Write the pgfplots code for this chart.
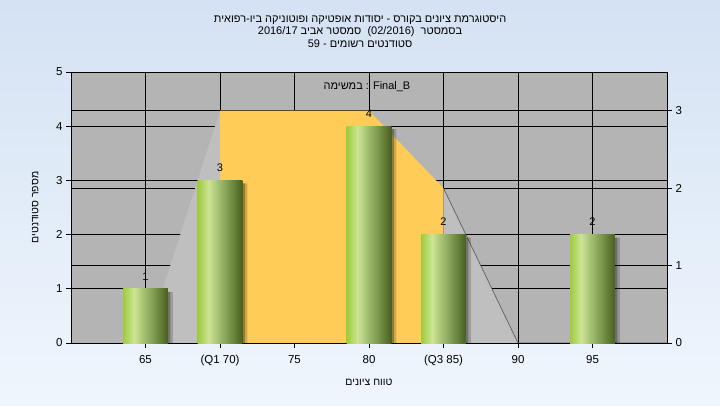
\documentclass[border=0pt]{standalone}
\usepackage{fontspec}
\setmainfont{Liberation Sans}
\newfontfamily\hebfont[Script=Hebrew]{Liberation Sans}
\usepackage{pgfplots}
\pgfplotsset{compat=1.18}
\TeXXeTstate=1
\definecolor{bgtop}{RGB}{213,226,243}
\definecolor{bgbot}{RGB}{239,246,253}
\definecolor{plotgrey}{RGB}{180,180,180}
\definecolor{wgrey}{RGB}{191,191,191}
\definecolor{boxyellow}{RGB}{255,204,88}
\definecolor{ga}{RGB}{158,204,60}
\definecolor{gb}{RGB}{204,228,148}
\definecolor{gm}{RGB}{140,168,92}
\definecolor{gc}{RGB}{72,96,32}
\definecolor{lineg}{RGB}{95,95,95}
\pgfdeclarehorizontalshading{bargrad}{100bp}{color(0bp)=(ga); color(25bp)=(ga); color(37bp)=(gb); color(55bp)=(gm); color(75bp)=(gc); color(100bp)=(gc)}
\pgfplotsset{
  base/.style={scale only axis, width=596pt, height=271pt, at={(71pt,62pt)}, anchor=south west,
    xmin=60, xmax=100, ymin=0,
    /pgf/number format/assume math mode=true,
    tick label style={font=\fontsize{11.5}{13}\selectfont, text=black},
    axis line style={black, line width=0.8pt},
    tick style={black, line width=0.8pt},
    grid style={black, line width=0.8pt},
    tick align=outside, major tick length=5pt},
  mybar/.style={ybar, bar width=3, bar shift=0, draw=none, shade, shading=bargrad,
    nodes near coords,
    every node near coord/.append style={anchor=center, yshift=12.5pt, font=\fontsize{11}{13}\selectfont, text=black}},
  shad/.style={ybar, bar width=0.17, draw=none, fill=black, yshift=-3pt}
}
\begin{document}
\begin{tikzpicture}
\useasboundingbox (0,0) rectangle (720pt,405pt);
\fill[top color=bgtop, bottom color=bgbot] (0,0) rectangle (720pt,405pt);
% axis A: left scale, background, grid
\begin{axis}[base, ymax=5,
  axis background/.style={fill=plotgrey},
  xtick={65,70,75,80,85,90,95},
  xticklabels={65,(Q1 70),75,80,(Q3 85),90,95},
  xticklabel style={yshift=-4pt},
  ytick={0,1,2,3,4,5},
  xtick pos=bottom, ytick pos=left,
  grid=major,
  xlabel={\beginR טווח ציונים\endR},
  ylabel={\beginR מספר סטודנטים\endR},
  xlabel style={at={(axis description cs:0.5,0)}, anchor=center, yshift=-39pt, font=\hebfont\fontsize{10.5}{12}\selectfont},
  ylabel style={at={(axis description cs:-0.06,0.5)}, anchor=center, font=\hebfont\fontsize{10.5}{12}\selectfont},
  title={\beginR היסטוגרמת ציונים בקורס - יסודות אופטיקה ופוטוניקה ביו-רפואית\endR\\
         \beginR בסמסטר\ \ \beginL(02/2016)\endL\ \ סמסטר אביב \beginL2016/17\endL\endR\\
         \beginR סטודנטים רשומים - \beginL59\endL\endR},
  title style={at={(axis description cs:0.485,1)}, anchor=center, yshift=34.5pt, align=center,
    font=\hebfont\fontsize{11}{12.5}\selectfont},
]
\end{axis}
% axis B: right scale, box-plot shape
\begin{axis}[base, ymax=3.5, hide x axis, axis y line*=right,
  ytick={0,1,2,3}, ymajorgrids]
\addplot[fill=wgrey, draw=none] coordinates {(65,0) (70,3) (70,0) (65,0)};
\addplot[fill=boxyellow, draw=none] coordinates {(70,0) (70,3) (80,3) (85,2) (85,0) (70,0)};
\addplot[fill=wgrey, draw=none] coordinates {(85,0) (85,2) (90,0) (85,0)};
\addplot[lineg, line width=0.7pt] coordinates {(85,2) (90,0) (100,0)};
\end{axis}
% axis C: bars
\begin{axis}[base, ymax=5, xtick=\empty, ytick=\empty]
\addplot[shad, bar shift=1.585, fill opacity=0.4] coordinates {(65,1) (70,3) (80,4) (85,2) (95,2)};
\addplot[shad, bar shift=1.755, fill opacity=0.18] coordinates {(65,1) (70,3) (80,4) (85,2) (95,2)};
\addplot[mybar] coordinates {(65,1)};
\addplot[mybar] coordinates {(70,3)};
\addplot[mybar] coordinates {(80,4)};
\addplot[mybar] coordinates {(85,2)};
\addplot[mybar] coordinates {(95,2)};
\node[font=\fontsize{11}{13}\selectfont] at (axis description cs:0.4966,0.945) {{\hebfont במשימה} : Final\_B};
\end{axis}
\end{tikzpicture}
\end{document}
